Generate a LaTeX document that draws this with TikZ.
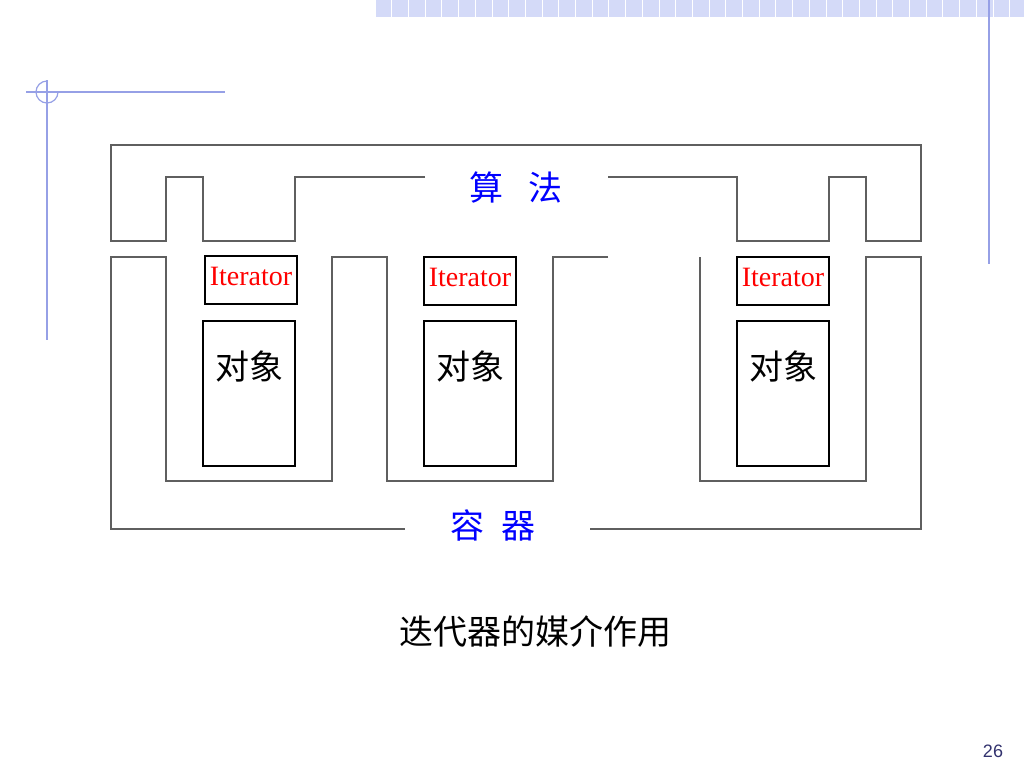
\documentclass[tikz,border=0pt]{standalone}
\usepackage{fontspec}
\setmainfont{Liberation Serif}
\newfontfamily\cjk{Noto Sans CJK SC}
\newfontfamily\pagefont{Liberation Sans}
\usetikzlibrary{positioning}
\definecolor{frameblue}{RGB}{150,160,230}
\definecolor{barblue}{RGB}{212,218,248}
\definecolor{wallgray}{RGB}{95,95,95}
\definecolor{numblue}{RGB}{50,50,110}

\begin{document}
\begin{tikzpicture}[x=0.5pt, y=-0.5pt,
  wall/.style={draw=wallgray, line width=1pt},
  itbox/.style={draw, line width=0.75pt, anchor=base, inner sep=0pt, minimum width=46pt,
    text height=14.5pt, text depth=9.5pt, text=red, font=\fontsize{14}{14}\selectfont},
  objbox/.style={draw, line width=0.75pt, anchor=base, inner sep=0pt, minimum width=46pt,
    text height=29pt, text depth=43.5pt, font=\cjk\fontsize{17}{17}\selectfont},
  title/.style={text=blue, font=\cjk\fontsize{17}{17}\selectfont}]
  \fill[white] (0,0) rectangle (1024,768);
  \useasboundingbox (0,0) rectangle (1024,768);
  % slide frame
  \fill[barblue] (375,0) rectangle (1024,17);
  \foreach \i in {0,...,38}
    \draw[white, line width=0.4pt] ({375+\i*16.7},0) -- ++(0,17);
  \draw[frameblue, line width=0.75pt] (989,0) -- (989,264);
  \draw[frameblue, line width=0.75pt] (26,92) -- (225,92);
  \draw[frameblue, line width=0.75pt] (47,80) -- (47,340);
  \draw[frameblue, line width=0.6pt] (58,92) arc[start angle=0, end angle=270, radius=11];
  % algorithm wall
  \draw[wall] (425,177) -- (295,177) -- (295,241) -- (203,241) -- (203,177) -- (166,177)
    -- (166,241) -- (111,241) -- (111,145) -- (921,145) -- (921,241) -- (866,241)
    -- (866,177) -- (829,177) -- (829,241) -- (737,241) -- (737,177) -- (608,177);
  \node[title] (alg) at (516,187) {算\hspace{12.5pt}法};
  % container wall
  \draw[wall] (608,257) -- (553,257) -- (553,481) -- (387,481) -- (387,257) -- (332,257)
    -- (332,481) -- (166,481) -- (166,257) -- (111,257) -- (111,529) -- (405,529);
  \draw[wall] (590,529) -- (921,529) -- (921,257) -- (866,257) -- (866,481) -- (700,481)
    -- (700,257);
  \node[title] (cont) at (493,525) {容\hspace{8.5pt}器};
  % iterators and objects
  \node[itbox] (it1) at (251,285) {Iterator};
  \node[itbox] (it2) at (470,286) {Iterator};
  \node[itbox] (it3) at (783,286) {Iterator};
  \node[objbox] (obj1) at (249,379) {对象};
  \node[objbox] (obj2) at (470,379) {对象};
  \node[objbox] (obj3) at (783,379) {对象};
  % caption and page number
  \node[font=\cjk\fontsize{17}{17}\selectfont] (cap) at (535,632) {迭代器的媒介作用};
  \node[text=numblue, font=\pagefont\fontsize{9}{9}\selectfont] (page) at (993,751) {26};
\end{tikzpicture}
\end{document}
